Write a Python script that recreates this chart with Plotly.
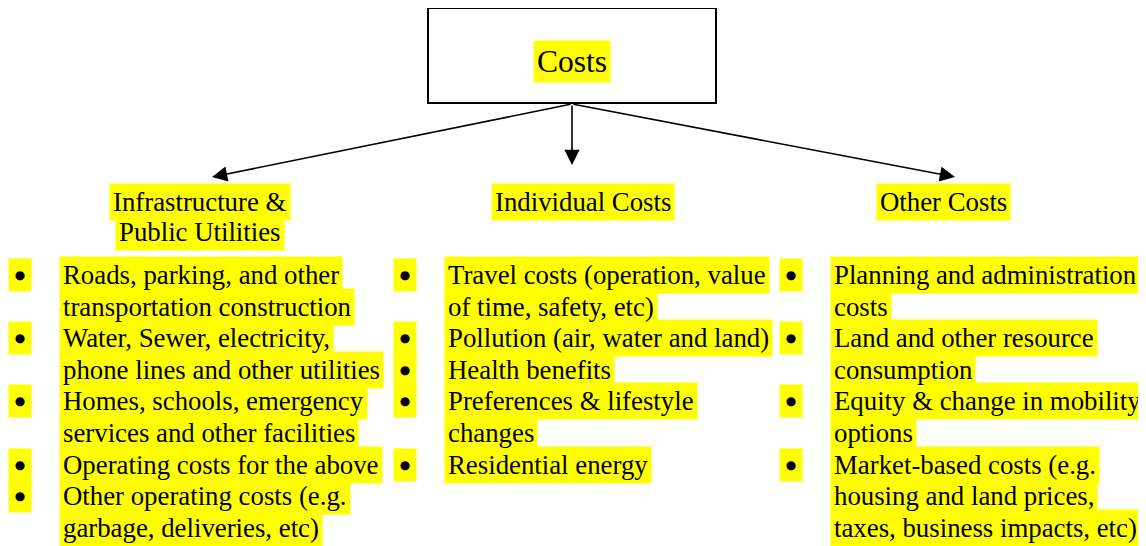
import plotly.graph_objects as go

# texte du diagramme
root_label = "Costs"
headings = [["Infrastructure &", "Public Utilities"], ["Individual Costs"], ["Other Costs"]]
items_infra = [
    ["Roads, parking, and other", "transportation construction"],
    ["Water, Sewer, electricity,", "phone lines and other utilities"],
    ["Homes, schools, emergency", "services and other facilities"],
    ["Operating costs for the above"],
    ["Other operating costs (e.g.", "garbage, deliveries, etc)"],
]
items_indiv = [
    ["Travel costs (operation, value", "of time, safety, etc)"],
    ["Pollution (air, water and land)"],
    ["Health benefits"],
    ["Preferences & lifestyle", "changes"],
    ["Residential energy"],
]
items_other = [
    ["Planning and administration", "costs"],
    ["Land and other resource", "consumption"],
    ["Equity & change in mobility", "options"],
    ["Market-based costs (e.g.", "housing and land prices,", "taxes, business impacts, etc)"],
]

W, H = 1146, 546
OFF = 8  # marge par defaut du <body> dans la page html
FONT = "Liberation Serif, Times New Roman, serif"
YELLOW = "#ffff00"
SIZE = 26.8
LINE = 31.6
PAD = 3

fig = go.Figure()

bg_notes = []
fg_notes = []


def add_text(x, y, text, anchor="left", size=SIZE):
    # deux passes : d'abord les fonds jaunes, ensuite le texte noir
    if anchor == "left":
        x = x - PAD - 1
    common = dict(x=x, y=y, xref="x", yref="y", text=text, showarrow=False,
                  xanchor=anchor, yanchor="middle", borderpad=PAD)
    bg_notes.append(dict(common, bgcolor=YELLOW,
                         font=dict(family=FONT, size=size, color=YELLOW)))
    fg_notes.append(dict(common, font=dict(family=FONT, size=size, color="black")))


def add_bullet(x, y):
    bg_notes.append(dict(x=x, y=y, xref="x", yref="y", text="\u25cf", showarrow=False,
                         xanchor="center", yanchor="middle", width=20, height=30,
                         bgcolor=YELLOW, font=dict(family="DejaVu Sans", size=12, color="black")))


# boite principale
fig.add_shape(type="rect", x0=428, y0=8, x1=716, y1=103, xref="x", yref="y",
              line=dict(color="black", width=2), fillcolor="white")
add_text(572, 61, root_label, anchor="center", size=31.5)

# colonnes
columns = [
    (200, 20, 63, headings[0], items_infra),
    (583, 405, 448, headings[1], items_indiv),
    (943, 791, 834, headings[2], items_other),
]
for cx, bx, tx, head, items in columns:
    for i, h in enumerate(head):
        add_text(cx, 202 + i * 30, h, anchor="center")
    y = 275
    for item in items:
        add_bullet(bx, y)
        for line in item:
            add_text(tx, y, line)
            y += LINE

# fleches
arrows = [(212, 177), (572, 165), (955, 177)]
arrow_notes = []
for ex, ey in arrows:
    arrow_notes.append(dict(x=ex, y=ey, ax=572, ay=104, xref="x", yref="y",
                            axref="x", ayref="y", text="", showarrow=True,
                            arrowhead=2, arrowsize=1.9, arrowwidth=1.6,
                            arrowcolor="black", standoff=0))

fig.update_layout(
    width=W - OFF, height=H - OFF,
    margin=dict(l=0, r=0, t=0, b=0),
    paper_bgcolor="white", plot_bgcolor="white",
    xaxis=dict(range=[OFF, W], visible=False, fixedrange=True),
    yaxis=dict(range=[H, OFF], visible=False, fixedrange=True),
    annotations=arrow_notes + bg_notes + fg_notes,
    showlegend=False,
)

fig.write_html("out.html")
